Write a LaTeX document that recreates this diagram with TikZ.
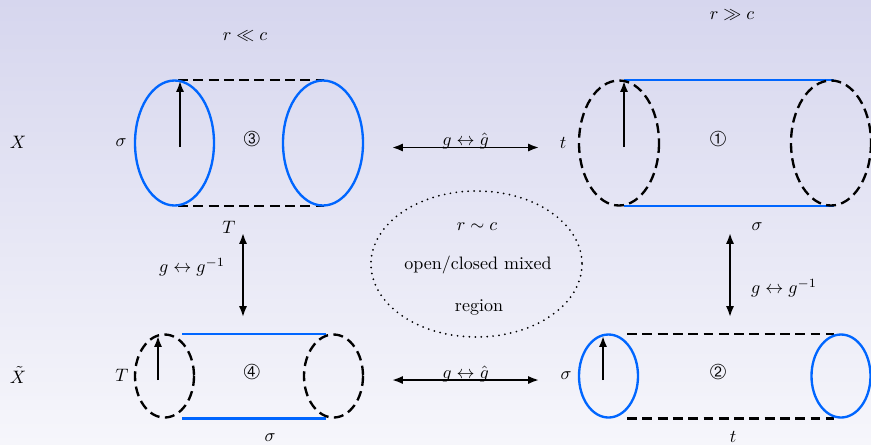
\documentclass[tikz,border=0pt]{standalone}
\usepackage{amsmath,amssymb}
\usepackage{pifont}
\usetikzlibrary{arrows.meta}
\definecolor{cylblue}{RGB}{0,102,255}
\definecolor{bgtop}{RGB}{214,214,238}
\definecolor{bgbot}{RGB}{246,246,251}
\tikzset{
  solidring/.style={draw=cylblue,line width=1.3pt},
  dashring/.style={draw=black,line width=1.3pt,dash pattern=on 5.5pt off 3pt},
  bluelin/.style={draw=cylblue,line width=1.3pt},
  dashlin/.style={draw=black,line width=1.3pt,dash pattern=on 5.5pt off 3pt},
  duality/.style={line width=1.1pt,{Latex[length=6pt,width=4.5pt]}-{Latex[length=6pt,width=4.5pt]}},
  updir/.style={line width=1.1pt,-{Latex[length=6pt,width=4.5pt]}},
  lbl/.style={inner sep=1pt},
}
\begin{document}
\begin{tikzpicture}[x=0.5556pt,y=-0.5556pt]
\shade[top color=bgtop,bottom color=bgbot] (0,0) rectangle (871,444);
\useasboundingbox (0,0) rectangle (871,444);

% ---- cylinder 3 (top left)
\draw[dashlin] (178,80) -- (324,80);
\draw[dashlin] (178,206) -- (324,206);
\draw[solidring] (174.5,143) ellipse [x radius=39.5,y radius=62.5];
\draw[solidring] (323,143) ellipse [x radius=40,y radius=62.5];
\coordinate (a3s) at (180,147);
\coordinate (a3e) at (180,81);
\draw[updir] (a3s) -- (a3e);
\node[lbl] (sig3) at (121,143) {$\sigma$};
\node[lbl] (n3) at (252,139) {\large\ding{194}};
\node[lbl] (T3) at (229,227) {$T$};
\node[lbl] (rll) at (245,36) {$r \ll c$};
\node[lbl] (X) at (18,142) {$X$};

% ---- cylinder 1 (top right)
\draw[bluelin] (624,80) -- (834,80);
\draw[bluelin] (624,206) -- (834,206);
\draw[dashring] (619,143) ellipse [x radius=40,y radius=62.5];
\draw[dashring] (831,143) ellipse [x radius=40,y radius=62.5];
\coordinate (a1s) at (624,147);
\coordinate (a1e) at (624,81);
\draw[updir] (a1s) -- (a1e);
\node[lbl] (t1) at (563,143) {$t$};
\node[lbl] (n1) at (718,139) {\large\ding{192}};
\node[lbl] (sig1) at (757,227) {$\sigma$};
\node[lbl] (rgg) at (732,15) {$r \gg c$};

% ---- cylinder 4 (bottom left)
\draw[bluelin] (182,334) -- (326,334);
\draw[bluelin] (182,418.5) -- (326,418.5);
\draw[dashring] (164.5,376) ellipse [x radius=29.5,y radius=41.5];
\draw[dashring] (333.5,376) ellipse [x radius=29.5,y radius=41.5];
\coordinate (a4s) at (158,380);
\coordinate (a4e) at (158,336);
\draw[updir] (a4s) -- (a4e);
\node[lbl] (T4) at (122,375) {$T$};
\node[lbl] (n4) at (252,372) {\large\ding{195}};
\node[lbl] (sig4) at (270,438) {$\sigma$};
\node[lbl] (Xt) at (18,375) {$\tilde{X}$};

% ---- cylinder 2 (bottom right)
\draw[dashlin] (627,334) -- (834,334);
\draw[dashlin] (627,418.5) -- (834,418.5);
\draw[solidring] (608.5,376) ellipse [x radius=29.5,y radius=41.5];
\draw[solidring] (841,376) ellipse [x radius=29.5,y radius=41.5];
\coordinate (a2s) at (603,380);
\coordinate (a2e) at (603,336);
\draw[updir] (a2s) -- (a2e);
\node[lbl] (sig2) at (566,376) {$\sigma$};
\node[lbl] (n2) at (718,372) {\large\ding{193}};
\node[lbl] (t2) at (733,437) {$t$};

% ---- duality arrows
\coordinate (h1l) at (392,147.5);
\coordinate (h1r) at (539,147.5);
\draw[duality] (h1l) -- node[above,inner sep=0pt,yshift=-1.5pt] (lh1) {$g \leftrightarrow \hat{g}$} (h1r);
\coordinate (h2l) at (392,380);
\coordinate (h2r) at (539,380);
\draw[duality] (h2l) -- node[above,inner sep=0pt,yshift=-1.5pt] (lh2) {$g \leftrightarrow \hat{g}$} (h2r);
\coordinate (v1t) at (243,233);
\coordinate (v1b) at (243,317);
\draw[duality] (v1t) -- (v1b);
\node[lbl] (lv1) at (192,267) {$g \leftrightarrow g^{-1}$};
\coordinate (v2t) at (730,233);
\coordinate (v2b) at (730,317);
\draw[duality] (v2t) -- (v2b);
\node[lbl] (lv2) at (784,288) {$g \leftrightarrow g^{-1}$};

% ---- mixed region
\draw[line width=1.1pt,dash pattern=on 0pt off 3.3pt,line cap=round] (476.5,264) ellipse [x radius=105.5,y radius=73];
\node[lbl] (rsim) at (477,227) {$r \sim c$};
\node[lbl] (mix) at (478,265) {open/closed mixed};
\node[lbl] (reg) at (479,307) {region};
\end{tikzpicture}
\end{document}
